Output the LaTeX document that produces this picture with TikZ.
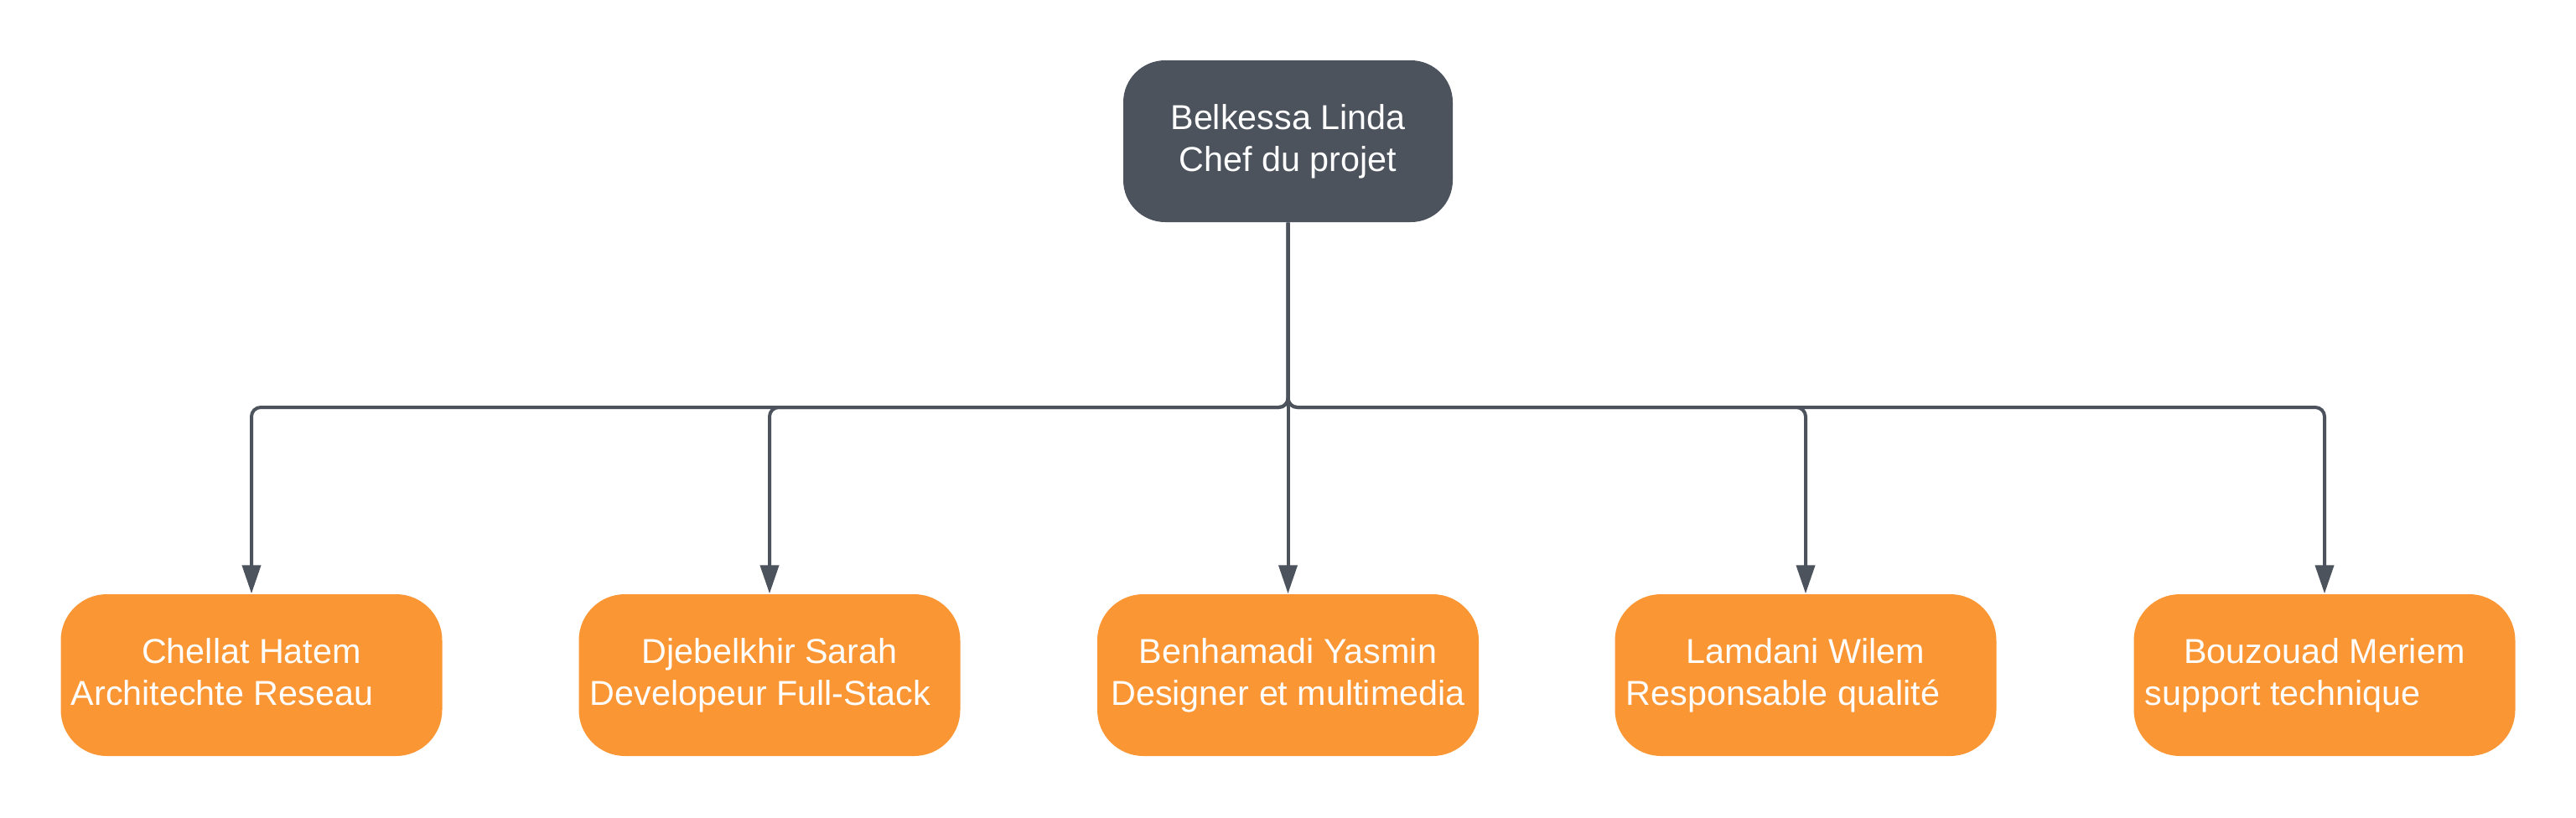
\documentclass[tikz,border=0pt]{standalone}
\usepackage{fontspec}
\setmainfont{Liberation Sans}
\usetikzlibrary{arrows.meta}

\definecolor{chefgray}{HTML}{4C535D}
\definecolor{teamorange}{HTML}{FB9634}

\begin{document}
\begin{tikzpicture}[
	chef/.style={rectangle, rounded corners=0.5cm, fill=chefgray, text=white, minimum width=3.93cm, minimum height=1.93cm, align=center, inner sep=0pt, font=\fontsize{11.75}{14.2}\selectfont},
	membre/.style={chef, rounded corners=0.55cm, fill=teamorange, minimum width=4.55cm},
	lien/.style={draw=chefgray, line width=0.04cm, rounded corners=0.11cm, -{Triangle[length=0.34cm, width=0.22cm]}}
]

	\useasboundingbox (0, 0) rectangle (30.73, -9.75);

	\coordinate (C0) at (15.365, -1.685);
	\coordinate (bus) at (15.365, -4.86);

	\coordinate (M1) at (3.00, -8.055);
	\coordinate (M2) at (9.18, -8.055);
	\coordinate (M3) at (15.365, -8.055);
	\coordinate (M4) at (21.54, -8.055);
	\coordinate (M5) at (27.73, -8.055);

	\node (chef) at (C0) [chef] {Belkessa Linda\\Chef du projet};

	\node (m1) at (M1) [membre] {Chellat Hatem\\Architechte Reseau\vphantom{p}\hspace*{0.70cm}};
	\node (m2) at (M2) [membre] {Djebelkhir Sarah\\Developeur Full-Stack\hspace*{0.22cm}};
	\node (m3) at (M3) [membre] {Benhamadi Yasmin\\Designer et multimedia};
	\node (m4) at (M4) [membre] {Lamdani Wilem\\Responsable qualité\hspace*{0.54cm}};
	\node (m5) at (M5) [membre] {Bouzouad Meriem\\support technique\hspace*{1.00cm}};

	\draw[lien] (chef.south) -- (bus) -| (m1.north);
	\draw[lien] (chef.south) -- (bus) -| (m2.north);
	\draw[lien] (chef.south) -- (m3.north);
	\draw[lien] (chef.south) -- (bus) -| (m4.north);
	\draw[lien] (chef.south) -- (bus) -| (m5.north);
\end{tikzpicture}
\end{document}
